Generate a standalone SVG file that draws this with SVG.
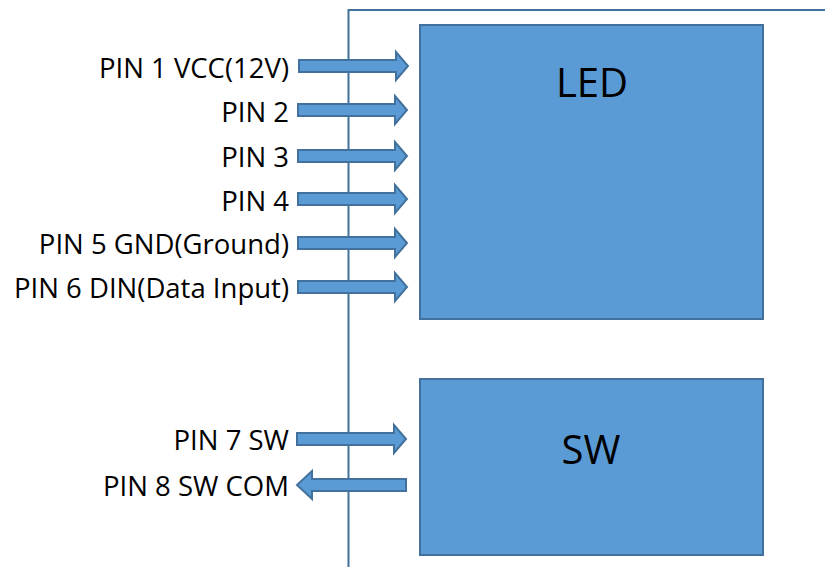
<svg xmlns="http://www.w3.org/2000/svg" width="825" height="567" viewBox="0 0 825 567">
<defs>
<style>
.box{fill:#5B9BD5;stroke:#41719C;stroke-width:2}
.arr{fill:#5B9BD5;stroke:#41719C;stroke-width:2;stroke-linejoin:miter}
.ln{fill:none;stroke:#41719C;stroke-width:2}
.lbl{font-family:"Open Sans","Liberation Sans",sans-serif;font-size:27.5px;fill:#000;text-anchor:end}
.big{font-family:"Open Sans","Liberation Sans",sans-serif;font-size:40px;fill:#000;text-anchor:middle}
</style>
<path id="ra" class="arr" d="M0,-6 H97 V-14 L109,0 L97,14 V6 H0 Z"/>
</defs>
<g id="frame"><path class="ln" d="M348.5,567 V10 H825"/></g>
<g id="led"><rect class="box" x="420" y="25" width="343" height="294"/><text class="big" x="592" y="97">LED</text></g>
<g id="sw"><rect class="box" x="420" y="379" width="343" height="176"/><text class="big" x="591" y="464">SW</text></g>
<g id="connectors">
<use href="#ra" x="299" y="66"/>
<use href="#ra" x="298" y="110"/>
<use href="#ra" x="298" y="156"/>
<use href="#ra" x="298" y="199"/>
<use href="#ra" x="298" y="243"/>
<use href="#ra" x="298" y="287"/>
<use href="#ra" x="297" y="439"/>
<path class="arr" d="M406,479 H312 V471 L297,485 L312,499 V491 H406 Z"/>
</g>
<g id="labels">
<text class="lbl" x="289" y="78">PIN 1 VCC(12V)</text>
<text class="lbl" x="289" y="122">PIN 2</text>
<text class="lbl" x="289" y="167">PIN 3</text>
<text class="lbl" x="289" y="211">PIN 4</text>
<text class="lbl" x="289" y="254">PIN 5 GND(Ground)</text>
<text class="lbl" x="289" y="298">PIN 6 DIN(Data Input)</text>
<text class="lbl" x="289" y="450">PIN 7 SW</text>
<text class="lbl" x="289" y="496">PIN 8 SW COM</text>
</g>
</svg>
